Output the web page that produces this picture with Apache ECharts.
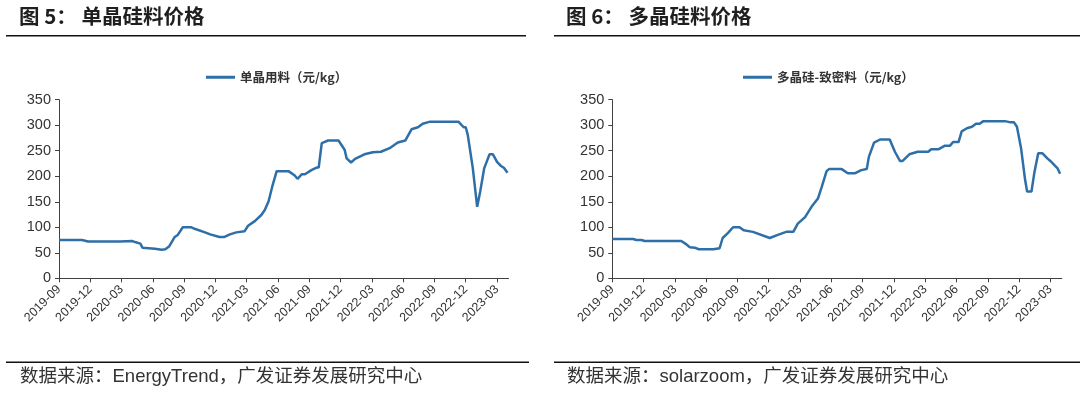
<!DOCTYPE html>
<html>
<head>
<meta charset="utf-8">
<script src="https://cdn.jsdelivr.net/npm/echarts@6/dist/echarts.min.js"></script>
<style>
html,body{margin:0;padding:0;background:#fff;}
#c{width:1080px;height:393px;}
</style>
</head>
<body>
<div id="c"></div>
<script>
// ---- data ----
const monoName = '单晶用料（元/kg）';
const monoDates = ['2019-09-01','2019-11-07','2019-11-25','2020-02-26','2020-03-01','2020-04-01','2020-04-10','2020-04-25','2020-05-01','2020-06-07','2020-06-26','2020-07-07','2020-07-19','2020-08-04','2020-08-13','2020-08-28','2020-09-22','2020-10-01','2020-11-01','2020-11-16','2020-12-13','2020-12-28','2021-01-13','2021-02-01','2021-02-23','2021-03-05','2021-03-25','2021-04-13','2021-04-23','2021-05-04','2021-05-15','2021-05-28','2021-07-01','2021-07-19','2021-07-28','2021-08-10','2021-08-19','2021-09-07','2021-09-22','2021-09-28','2021-10-07','2021-10-26','2021-11-25','2021-11-28','2021-12-13','2021-12-19','2022-01-01','2022-01-13','2022-02-09','2022-03-04','2022-03-28','2022-04-22','2022-05-16','2022-06-07','2022-06-25','2022-07-14','2022-07-28','2022-08-19','2022-11-10','2022-11-25','2022-12-01','2022-12-07','2022-12-22','2023-01-04','2023-01-13','2023-01-25','2023-02-09','2023-02-18','2023-03-01','2023-03-13','2023-03-22','2023-04-01'];
const monoPrice = [75,75,72,72,73,73,71,68,60,58,56,57,63,81,85,100,100,97,90,86,81,81,86,90,92,103,112,124,134,151,180,210,210,202,195,204,204,212,217,217,265,270,270,268,252,235,227,234,243,247,248,255,266,270,292,296,303,307,307,296,296,281,216,140,170,216,243,243,228,220,216,207];

const denseName = '多晶硅-致密料（元/kg）';
const denseDates = ['2019-09-01','2019-11-01','2019-11-10','2019-11-25','2019-12-04','2020-03-20','2020-04-01','2020-04-14','2020-04-28','2020-05-10','2020-06-22','2020-07-10','2020-07-19','2020-08-04','2020-08-19','2020-09-07','2020-09-19','2020-10-16','2020-12-04','2020-12-28','2021-01-22','2021-02-11','2021-02-23','2021-03-16','2021-04-04','2021-04-23','2021-05-04','2021-05-18','2021-05-25','2021-07-01','2021-07-19','2021-08-10','2021-08-28','2021-09-13','2021-09-19','2021-10-04','2021-10-22','2021-11-19','2021-12-04','2021-12-19','2021-12-27','2022-01-16','2022-02-09','2022-03-10','2022-03-19','2022-04-10','2022-04-28','2022-05-13','2022-05-22','2022-06-07','2022-06-16','2022-07-01','2022-07-16','2022-07-28','2022-08-08','2022-08-19','2022-10-21','2022-11-04','2022-11-16','2022-11-25','2022-12-07','2022-12-19','2022-12-25','2023-01-07','2023-01-16','2023-01-27','2023-02-08','2023-02-21','2023-03-01','2023-03-16','2023-03-22','2023-03-30'];
const densePrice = [77,77,75,75,73,73,68,61,60,57,57,59,79,89,100,100,94,91,79,85,91,91,107,120,140,157,180,210,214,214,206,206,212,214,238,266,272,272,248,230,230,243,248,248,253,253,260,260,267,267,288,294,297,303,303,308,308,306,306,297,255,193,170,170,209,245,245,235,230,220,216,205];

const tickLabels = ['2019-09','2019-12','2020-03','2020-06','2020-09','2020-12','2021-03','2021-06','2021-09','2021-12','2022-03','2022-06','2022-09','2022-12','2023-03'];

// ---- helpers ----
const START_Y = 2019, START_M = 9;
function toMonth(s){
  const p = s.split('-').map(Number);
  const dim = new Date(p[0], p[1], 0).getDate();
  return (p[0]-START_Y)*12 + (p[1]-START_M) + (p[2]-1)/dim;
}
const tickValues = tickLabels.map(t => toMonth(t + '-01'));
function pairs(dates, vals){ return dates.map((d,i)=>[toMonth(d), vals[i]]); }
function monthLabel(v){
  const idx = tickValues.findIndex(t => Math.abs(t - v) < 1e-6);
  return idx >= 0 ? tickLabels[idx] : '';
}

const LINE = '#2f6fa7';
const AX = '#404040';
const latin = 'Liberation Sans, Arial, Noto Sans CJK SC, sans-serif';
const cjk = 'Noto Sans CJK SC, sans-serif';

const grids = [
  {left:59, top:99.7, width:449.5, height:178.6},
  {left:612.3, top:99.7, width:449.5, height:178.6}
];

function xAxis(i){
  return {
    type:'value', gridIndex:i, min:0, max:43.1,
    axisLine:{show:true, lineStyle:{color:AX, width:1}},
    axisTick:{show:true, length:4, lineStyle:{color:AX}, customValues:tickValues},
    axisLabel:{customValues:tickValues, formatter:monthLabel, rotate:45, fontSize:12.5, color:'#333', fontFamily:latin, margin:9},
    splitLine:{show:false}
  };
}
function yAxis(i){
  return {
    type:'value', gridIndex:i, min:0, max:350, interval:50,
    axisLine:{show:true, lineStyle:{color:AX, width:1}},
    axisTick:{show:true, length:4, inside:false, lineStyle:{color:AX}},
    axisLabel:{fontSize:14.5, color:'#333', fontFamily:latin, margin:8},
    splitLine:{show:false}
  };
}
function legend(name, left){
  return {
    data:[name], left:left, top:66, icon:'rect', itemWidth:29, itemHeight:3, itemGap:4,
    textStyle:{fontSize:12.5, fontWeight:'bold', color:'#333', fontFamily:cjk}
  };
}

const chart = echarts.init(document.getElementById('c'), null, {renderer:'canvas'});
chart.setOption({
  animation:false,
  backgroundColor:'#fff',
  grid:grids,
  xAxis:[xAxis(0), xAxis(1)],
  yAxis:[yAxis(0), yAxis(1)],
  legend:[legend(monoName, 201), legend(denseName, 738)],
  series:[
    {name:monoName, type:'line', xAxisIndex:0, yAxisIndex:0, data:pairs(monoDates, monoPrice), showSymbol:false, lineStyle:{color:LINE, width:2.5}, itemStyle:{color:LINE}},
    {name:denseName, type:'line', xAxisIndex:1, yAxisIndex:1, data:pairs(denseDates, densePrice), showSymbol:false, lineStyle:{color:LINE, width:2.5}, itemStyle:{color:LINE}}
  ],
  graphic:[
    {type:'text', left:19, top:6, style:{text:'图 5： 单晶硅料价格', font:'bold 20.5px "Noto Sans CJK SC", sans-serif', fill:'#1f1f1f'}},
    {type:'text', left:566, top:6, style:{text:'图 6： 多晶硅料价格', font:'bold 20.5px "Noto Sans CJK SC", sans-serif', fill:'#1f1f1f'}},
    {type:'rect', shape:{x:6, y:35, width:520, height:1.5}, style:{fill:'#111'}},
    {type:'rect', shape:{x:554, y:35, width:526, height:1.5}, style:{fill:'#111'}},
    {type:'rect', shape:{x:6, y:361.5, width:523, height:1.5}, style:{fill:'#111'}},
    {type:'rect', shape:{x:554, y:361.5, width:526, height:1.5}, style:{fill:'#111'}},
    {type:'text', left:20, top:368, style:{text:'数据来源：EnergyTrend，广发证券发展研究中心', font:'18.5px "Liberation Sans", "Noto Sans CJK SC", sans-serif', fill:'#333'}},
    {type:'text', left:567, top:368, style:{text:'数据来源：solarzoom，广发证券发展研究中心', font:'18.5px "Liberation Sans", "Noto Sans CJK SC", sans-serif', fill:'#333'}}
  ]
});
</script>
</body>
</html>
